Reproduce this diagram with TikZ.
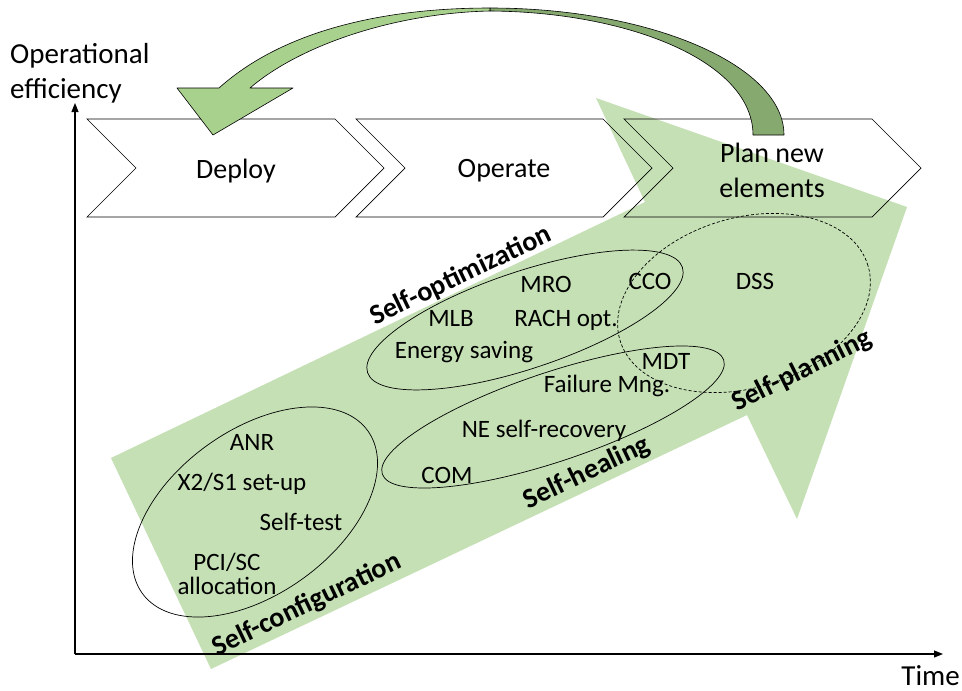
\documentclass[tikz,border=0pt]{standalone}
\usepackage{fontspec}
\setmainfont{Carlito}
\usetikzlibrary{arrows.meta,shapes.geometric}
\definecolor{bigarrow}{HTML}{C5E0B4}
\definecolor{arrowlight}{HTML}{A9D18E}
\definecolor{arrowdark}{HTML}{86A96F}
\begin{document}
\begin{tikzpicture}[x=1pt,y=-1pt,
  chevronbox/.style={draw=black, line width=0.7pt, line join=miter},
  biglabel/.style={font=\fontsize{28}{35}\selectfont, align=center, inner sep=0pt},
  smalllabel/.style={font=\fontsize{25}{24}\selectfont, align=center, inner sep=0pt},
  catlabel/.style={font=\fontsize{28}{34}\selectfont\bfseries, inner sep=0pt},
  groupring/.style={ellipse, draw=black, line width=0.7pt, inner sep=0pt},
  axisline/.style={line width=1.1pt, -{Triangle[length=9pt,width=7pt]}},
  curvepart/.style={draw=black, line width=0.6pt, line join=round}
]
\useasboundingbox[fill=white] (0,0) rectangle (962,691);

% large arrow
\fill[bigarrow] (111,458) -- (645,202) -- (596,98) -- (907,207) -- (797,519) -- (747,415) -- (211,669) -- cycle;

% chevrons
\draw[chevronbox] (87,119) -- (335,119) -- (384,168) -- (335,217) -- (87,217) -- (136,168) -- cycle;
\draw[chevronbox] (356,119) -- (603,119) -- (652,168) -- (603,217) -- (356,217) -- (405,168) -- cycle;
\draw[chevronbox] (624,119) -- (872,119) -- (921,168) -- (872,217) -- (624,217) -- (673,168) -- cycle;
\node[biglabel, anchor=base] (deploy) at (236,178) {Deploy};
\node[biglabel, anchor=base] (operate) at (504,177) {Operate};
\node[biglabel] (plan) at (772,170) {Plan new\\elements};

% group ellipses
\node[groupring, minimum width=278pt, minimum height=164pt, rotate=35.8] (cfgring) at (255,512) {};
\node[groupring, minimum width=332pt, minimum height=97pt, rotate=18.5] (optring) at (525,320) {};
\node[groupring, minimum width=360pt, minimum height=89pt, rotate=18.5] (healring) at (553,417) {};
\node[groupring, dashed, dash pattern=on 3pt off 2pt, minimum width=259pt, minimum height=170pt, rotate=16.8] (planring) at (744,303) {};

% item labels
\node[smalllabel, anchor=base] (anr) at (252,450) {ANR};
\node[smalllabel, anchor=base] (x2s1) at (242,490) {X2/S1 set-up};
\node[smalllabel, anchor=base] (selftest) at (301,530) {Self-test};
\node[smalllabel] (pci) at (227,574) {PCI/SC\\allocation};
\node[smalllabel, anchor=base] (mro) at (546,292) {MRO};
\node[smalllabel, anchor=base] (mlb) at (451,326) {MLB};
\node[smalllabel, anchor=base] (rach) at (566,326) {RACH opt.};
\node[smalllabel, anchor=base] (energy) at (464,358) {Energy saving};
\node[smalllabel, anchor=base] (cco) at (650,289) {CCO};
\node[smalllabel, anchor=base] (dss) at (755,289) {DSS};
\node[smalllabel, anchor=base] (mdt) at (666,369) {MDT};
\node[smalllabel, anchor=base] (failure) at (607,392) {Failure Mng.};
\node[smalllabel, anchor=base] (nerec) at (544,437) {NE self-recovery};
\node[smalllabel, anchor=base] (com) at (447,483) {COM};

% category labels
\node[catlabel, rotate=25.6] (selfconf) at (307,605) {Self-configuration};
\node[catlabel, rotate=25.6] (selfopt) at (461,276) {Self-optimization};
\node[catlabel, rotate=25.6] (selfheal) at (587,473) {Self-healing};
\node[catlabel, rotate=26.7] (selfplan) at (802,371) {Self-planning};

% curved feedback arrow
\filldraw[curvepart, fill=arrowdark] (490,8) .. controls (650,8) and (784,65) .. (784,135) -- (753,135) .. controls (753,62) and (630,12) .. (490,11) -- cycle;
\filldraw[curvepart, fill=arrowlight] (219,88) .. controls (279,34) and (375,8) .. (490,8) -- (490,11) .. controls (395,13) and (300,45) .. (250,88) -- (293,88) -- (213,135) -- (177,88) -- cycle;

% axes
\coordinate (O) at (75,654);
\coordinate (ytip) at (75,103);
\coordinate (xtip) at (943,654);
\draw[axisline] (O) -- (ytip);
\draw[axisline] (O) -- (xtip);
\node[font=\fontsize{29}{35}\selectfont, align=left, anchor=base west, inner sep=0pt] (ylabel) at (10,98) {Operational\\efficiency};
\node[font=\fontsize{29}{35}\selectfont, anchor=base east, inner sep=0pt] (xlabel) at (960,685) {Time};
\end{tikzpicture}
\end{document}
